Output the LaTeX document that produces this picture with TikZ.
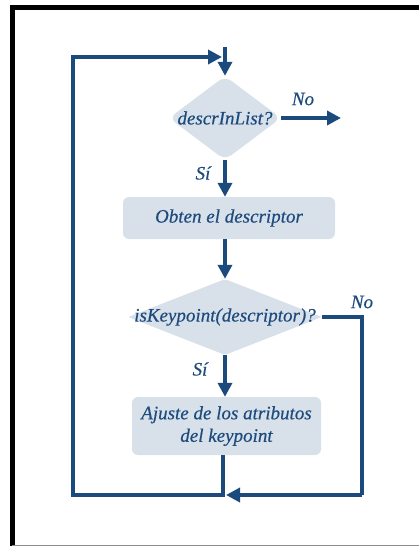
\documentclass[tikz,border=0pt]{standalone}
\usepackage{fontspec}
\newfontfamily\flowfont{Liberation Serif}[UprightFont={* Italic},FakeBold=0.4]
\usetikzlibrary{shapes.geometric,arrows.meta}
\definecolor{flowline}{HTML}{1B4B7C}
\definecolor{flowfill}{HTML}{D8E1EA}
\definecolor{flowtext}{HTML}{1D4B7D}
\begin{document}
\begin{tikzpicture}[x=1pt,y=-1pt,
  flow/.style={draw=flowline,line width=4.2pt},
  arrowed/.style={flow,-{Triangle[length=14pt,width=14pt]}},
  decision/.style={diamond,fill=flowfill,inner sep=0pt,draw=none},
  stepbox/.style={rectangle,fill=flowfill,rounded corners=6pt,draw=none,inner sep=0pt},
  lbl/.style={text=flowtext,font=\flowfont\fontsize{19}{22.5}\selectfont,inner sep=0pt}]
  \useasboundingbox (0,0) rectangle (419,546);
  % page frame
  \draw[line width=4.5pt,black] (419,7.25) -- (12.25,7.25) -- (12.25,546);
  \draw[line width=0.8pt,black!45] (12.25,545) -- (419,545);

  % shapes
  \node[decision,rounded corners=8pt,minimum width=112pt,minimum height=84pt] (d1) at (225,118) {};
  \node[lbl] (t1) at (d1.center) {descrInList?};
  \node[stepbox,minimum width=212pt,minimum height=42pt] (b1) at (229,218) {};
  \node[lbl] (t2) at (b1.center) {Obten el descriptor};
  \node[decision,rounded corners=2pt,minimum width=194pt,minimum height=76pt] (d2) at (225,317) {};
  \node[lbl] (t3) at (d2.center) {isKeypoint(descriptor)?};
  \node[stepbox,minimum width=189pt,minimum height=58pt] (b2) at (226.5,426) {};
  \node[lbl,align=center] (t4) at (b2.center) {Ajuste de los atributos\\del keypoint};

  % labels
  \node[lbl] (no1) at (303,99) {No};
  \node[lbl] (si1) at (203,173) {Sí};
  \node[lbl] (no2) at (362,302) {No};
  \node[lbl] (si2) at (200,369) {Sí};

  % connector points
  \coordinate (start) at (225,47);
  \coordinate (exit) at (341,118);
  \coordinate (join) at (223,495);
  \coordinate (bl) at (73,495);
  \coordinate (tl) at (73,57);
  \coordinate (entry) at (222,57);
  \coordinate (nr) at (362,317);
  \coordinate (nb) at (362,495);
  \coordinate (jr) at (226,495);

  % connectors (vertical runs keep the diamond's x)
  \draw[arrowed] (start) -- (d1.north);
  \draw[arrowed] (d1.east) -- (exit);
  \draw[arrowed] (d1.south) -- (d1.south |- b1.north);
  \draw[arrowed] (d2.north |- b1.south) -- (d2.north);
  \draw[arrowed] (d2.south) -- (d2.south |- b2.north);
  \draw[flow] (d2.east) -- (nr) -- (nb);
  \draw[arrowed] (nb) -- (jr);
  \draw[flow,line join=miter] (join |- b2.south) -- (join) -- (bl) -- (tl) -- +(10,0);
  \draw[arrowed] (tl) -- (entry);
\end{tikzpicture}
\end{document}
